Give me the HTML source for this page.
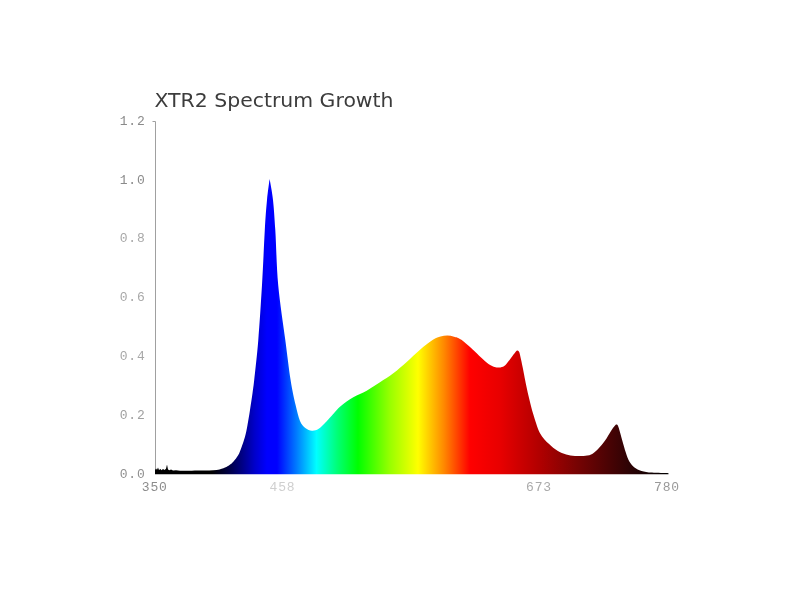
<!DOCTYPE html>
<html><head><meta charset="utf-8"><title>XTR2 Spectrum Growth</title>
<style>
html,body{margin:0;padding:0;background:#fff;}
body{width:800px;height:600px;overflow:hidden;}
svg{display:block;}
.t{font-family:"DejaVu Sans","Liberation Sans",sans-serif;font-size:20px;fill:#3c3c3c;}
.m text{font-family:"Liberation Mono",monospace;font-size:13px;letter-spacing:0.8px;}
</style></head><body>
<svg width="800" height="600" viewBox="0 0 800 600">
<defs><linearGradient id="g" gradientUnits="userSpaceOnUse" x1="155" y1="0" x2="668.5" y2="0">
<stop offset="0.0000" stop-color="#000000"/>
<stop offset="0.1110" stop-color="#000000"/>
<stop offset="0.1422" stop-color="#000040"/>
<stop offset="0.1694" stop-color="#000084"/>
<stop offset="0.1947" stop-color="#0000cc"/>
<stop offset="0.2181" stop-color="#0000ff"/>
<stop offset="0.2376" stop-color="#0000ff"/>
<stop offset="0.2746" stop-color="#0078ff"/>
<stop offset="0.3145" stop-color="#00ffff"/>
<stop offset="0.3544" stop-color="#00ff78"/>
<stop offset="0.3953" stop-color="#00ff00"/>
<stop offset="0.4576" stop-color="#98ff00"/>
<stop offset="0.5122" stop-color="#ffff00"/>
<stop offset="0.5628" stop-color="#ff8800"/>
<stop offset="0.6134" stop-color="#ff0000"/>
<stop offset="0.6719" stop-color="#e80000"/>
<stop offset="0.7498" stop-color="#b00000"/>
<stop offset="0.8179" stop-color="#7a0303"/>
<stop offset="0.8861" stop-color="#480304"/>
<stop offset="0.9250" stop-color="#2c0305"/>
<stop offset="0.9640" stop-color="#140203"/>
<stop offset="1.0000" stop-color="#000000"/>
</linearGradient></defs>
<rect width="800" height="600" fill="#ffffff"/>
<text class="t" x="154.5" y="107.2" textLength="239" lengthAdjust="spacingAndGlyphs">XTR2 Spectrum Growth</text>
<path d="M152.5,121.5 H155.5 V474" fill="none" stroke="#a0a0a0" stroke-width="1"/>
<path d="M155,474.2 L155,470 L156,468.5 L157,469.8 L158,467.5 L159,470 L160.5,469 L161.5,470.3 L163,469 L164.5,470 L166,468.8 L167,464.5 L168,469.5 L169.5,470.2 L171,469.6 L173,470.5 L176,470.2 L180,470.8 C183.3,470.8 193.9,470.6 200.0,470.5 C206.1,470.4 212.5,470.5 216.7,470.0 C220.9,469.5 222.9,468.3 225.0,467.5 C227.1,466.7 228.1,466.0 229.5,465.0 C230.9,464.0 231.8,463.4 233.3,461.7 C234.8,460.0 236.9,457.5 238.3,455.0 C239.7,452.5 240.6,449.8 241.7,446.7 C242.8,443.6 244.0,440.3 245.0,436.7 C246.0,433.1 246.7,429.4 247.5,425.0 C248.3,420.6 249.2,415.3 250.0,410.0 C250.8,404.7 251.8,398.3 252.5,393.3 C253.2,388.3 253.2,388.9 254.2,380.0 C255.2,371.1 257.0,355.8 258.3,340.0 C259.6,324.2 260.9,303.3 262.0,285.0 C263.1,266.7 264.0,244.2 264.8,230.0 C265.6,215.8 266.2,208.5 267.0,200.0 C267.8,191.5 269.2,182.5 269.6,179.0 C270.2,182.5 272.1,191.5 273.0,200.0 C273.9,208.5 274.4,215.8 275.3,230.0 C276.2,244.2 276.5,266.7 278.2,285.0 C279.9,303.3 283.2,324.2 285.3,340.0 C287.4,355.8 288.9,369.2 290.6,380.0 C292.3,390.8 294.0,398.2 295.6,405.0 C297.2,411.8 298.4,417.2 300.0,421.0 C301.6,424.8 303.3,426.4 305.3,428.0 C307.3,429.6 309.8,430.6 312.0,430.7 C314.2,430.8 316.2,430.4 318.7,428.8 C321.1,427.2 323.1,425.0 326.7,421.3 C330.2,417.6 335.6,410.7 340.0,406.7 C344.4,402.7 348.9,400.0 353.3,397.3 C357.8,394.6 362.2,393.2 366.7,390.7 C371.1,388.2 375.6,385.2 380.0,382.3 C384.4,379.4 388.9,376.7 393.3,373.3 C397.8,369.9 402.2,365.9 406.7,362.0 C411.1,358.1 415.6,353.5 420.0,349.8 C424.4,346.1 429.9,341.8 433.3,339.6 C436.7,337.4 438.2,337.2 440.5,336.5 C442.8,335.8 445.1,335.6 447.3,335.6 C449.6,335.6 451.7,336.0 454.0,336.7 C456.3,337.4 457.7,337.3 461.0,339.6 C464.3,341.9 470.6,347.6 473.8,350.5 C477.1,353.4 478.1,354.8 480.5,357.0 C482.9,359.2 486.2,362.4 488.5,364.0 C490.8,365.6 492.5,366.3 494.5,366.9 C496.5,367.5 498.7,367.7 500.5,367.4 C502.3,367.1 503.8,366.6 505.5,365.0 C507.2,363.4 509.3,360.2 511.0,358.0 C512.7,355.8 514.5,353.2 515.5,352.0 C516.5,350.8 517.0,350.8 517.3,350.6 C517.6,350.8 518.6,350.7 519.2,352.0 C519.8,353.3 520.2,356.0 520.8,358.5 C521.4,361.0 521.7,362.7 522.6,367.0 C523.5,371.3 524.9,379.0 526.0,384.5 C527.1,390.0 528.3,395.1 529.5,400.0 C530.7,404.9 531.5,408.5 533.2,414.0 C535.0,419.5 537.4,428.3 540.0,433.2 C542.6,438.2 545.8,440.8 548.8,443.8 C551.7,446.7 554.6,448.9 557.5,450.8 C560.4,452.6 563.3,453.7 566.2,454.6 C569.2,455.5 571.5,455.8 575.0,456.0 C578.5,456.2 584.0,456.2 587.2,455.6 C590.5,455.1 591.9,454.2 594.2,452.5 C596.6,450.8 599.2,447.8 601.2,445.5 C603.3,443.2 604.8,441.1 606.5,438.5 C608.2,435.9 610.2,432.1 611.8,429.8 C613.3,427.4 615.3,425.4 616.0,424.5 C616.2,424.6 616.8,424.2 617.3,424.8 C617.8,425.4 617.9,425.4 618.8,428.0 C619.6,430.6 621.1,436.2 622.2,440.2 C623.4,444.3 624.6,449.0 625.8,452.5 C626.9,456.0 627.8,458.8 629.2,461.2 C630.7,463.7 632.5,465.8 634.5,467.4 C636.5,469.0 638.6,470.0 641.5,470.9 C644.4,471.8 647.5,472.2 652.0,472.6 C656.5,473.0 665.8,473.1 668.5,473.2 L668.5,474.2 Z" fill="url(#g)"/>
<g class="m">
<text x="145.5" y="124.8" text-anchor="end" fill="#8a8a8a">1.2</text>
<text x="145.5" y="183.6" text-anchor="end" fill="#8a8a8a">1.0</text>
<text x="145.5" y="242.4" text-anchor="end" fill="#a8a8a8">0.8</text>
<text x="145.5" y="301.2" text-anchor="end" fill="#a8a8a8">0.6</text>
<text x="145.5" y="360.0" text-anchor="end" fill="#a8a8a8">0.4</text>
<text x="145.5" y="418.8" text-anchor="end" fill="#a0a0a0">0.2</text>
<text x="145.5" y="477.6" text-anchor="end" fill="#909090">0.0</text>
<text x="154.75" y="491.2" text-anchor="middle" fill="#8c8c8c">350</text>
<text x="282.5" y="491.2" text-anchor="middle" fill="#cfcfcf">458</text>
<text x="539" y="491.2" text-anchor="middle" fill="#aaaaaa">673</text>
<text x="667" y="491.2" text-anchor="middle" fill="#999999">780</text>
</g>
</svg>
</body></html>
